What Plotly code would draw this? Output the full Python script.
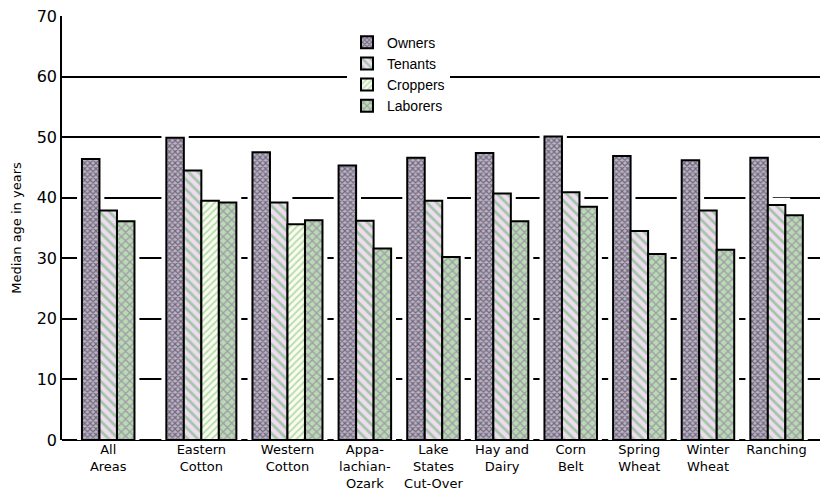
import plotly.graph_objects as go

# ---------------- data ----------------
categories = ["All<br>Areas", "Eastern<br>Cotton", "Western<br>Cotton",
              "Appa-<br>lachian-<br>Ozark", "Lake<br>States<br>Cut-Over",
              "Hay and<br>Dairy", "Corn<br>Belt", "Spring<br>Wheat",
              "Winter<br>Wheat", "Ranching"]
series_names = ["Owners", "Tenants", "Croppers", "Laborers"]
owners = [46.4, 49.9, 47.5, 45.3, 46.6, 47.4, 50.1, 46.9, 46.2, 46.6]
tenants = [37.9, 44.5, 39.2, 36.2, 39.5, 40.7, 40.9, 34.5, 37.9, 38.8]
croppers = [None, 39.5, 35.6, None, None, None, None, None, None, None]
laborers = [36.1, 39.2, 36.3, 31.6, 30.2, 36.1, 38.5, 30.7, 31.4, 37.1]
y_ticks = [0, 10, 20, 30, 40, 50, 60, 70]
y_title = "Median age in years"

series_values = [owners, tenants, croppers, laborers]

# ---------------- styles ----------------
patterns = [
    dict(shape="x", size=4, solidity=0.5, fgcolor="#222025", bgcolor="#bdb3c9"),
    dict(shape="\\", size=7, solidity=0.4, fgcolor="#52b05c", bgcolor="#f0dcf0"),
    dict(shape="/", size=5, solidity=0.35, fgcolor="#6cbf6c", bgcolor="#fbfbef"),
    dict(shape="x", size=6, solidity=0.4, fgcolor="#8a5aa8", bgcolor="#b8dcb0"),
]
FONT = "DejaVu Sans"
LEGEND_FONT = "Liberation Sans"

# ---------------- layout of groups (bar-width units) ----------------
BAR_W = 1.0
LEAD = 1.14
GAP = 0.92
EXTRA_AFTER_FIRST = 0.9
X_MAX = 43.3
HALO_X = 0.28
HALO_Y = 1.2

pos = LEAD
centers = {s: [None] * len(categories) for s in range(len(series_names))}
group_centers = []
for i in range(len(categories)):
    present = [s for s in range(len(series_names)) if series_values[s][i] is not None]
    start = pos
    for j, s in enumerate(present):
        centers[s][i] = start + j * BAR_W + BAR_W / 2
    end = start + len(present) * BAR_W
    group_centers.append((start + end) / 2)
    pos = end + GAP + (EXTRA_AFTER_FIRST if i == 0 else 0)

fig = go.Figure()

# white halo behind bars (hides gridlines close to bars, as in the original print)
hx, hy = [], []
for s in range(len(series_names)):
    for i in range(len(categories)):
        v = series_values[s][i]
        if v is not None:
            hx.append(centers[s][i])
            hy.append(v + HALO_Y)
fig.add_trace(go.Bar(x=hx, y=hy, width=BAR_W + 2 * HALO_X,
                     marker=dict(color="white", line=dict(width=0)),
                     showlegend=False, hoverinfo="skip"))

for s, name in enumerate(series_names):
    xs = [centers[s][i] for i in range(len(categories)) if series_values[s][i] is not None]
    ys = [series_values[s][i] for i in range(len(categories)) if series_values[s][i] is not None]
    fig.add_trace(go.Bar(
        x=xs, y=ys, width=BAR_W, name=name,
        marker=dict(color=patterns[s]["bgcolor"], pattern=patterns[s],
                    line=dict(color="black", width=2)),
    ))

fig.update_layout(
    width=820, height=497,
    margin=dict(l=62, r=0, t=16, b=57),
    barmode="overlay",
    plot_bgcolor="white", paper_bgcolor="white",
    font=dict(family=FONT, color="black"),
    legend=dict(x=0.376, y=0.975, xanchor="left", yanchor="top",
                bgcolor="white", borderwidth=0, font=dict(size=14, family=LEGEND_FONT),
                itemwidth=30, traceorder="normal"),
    xaxis=dict(range=[0, X_MAX], tickmode="array", tickvals=group_centers, ticktext=categories,
               showgrid=False, zeroline=False, showline=False, ticks="", automargin=False,
               tickfont=dict(size=13, family=FONT)),
    yaxis=dict(range=[0, 70], tickvals=y_ticks, showgrid=True, gridcolor="black", gridwidth=1.5,
               zeroline=True, zerolinecolor="black", zerolinewidth=2,
               showline=True, linecolor="black", linewidth=1.5, ticks="", automargin=False,
               tickfont=dict(size=16, family=FONT),
               title=dict(text=y_title, font=dict(size=13, family=FONT), standoff=12)),
)

fig.write_html("out.html", config={"displayModeBar": False},
               post_script="document.body.style.margin='0';")
